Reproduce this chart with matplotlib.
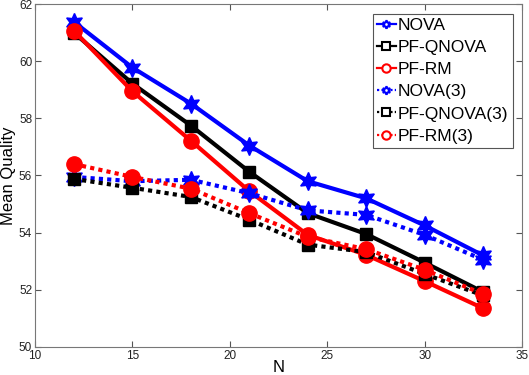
import matplotlib
matplotlib.use("Agg")
import matplotlib.pyplot as plt
from matplotlib.lines import Line2D

plt.rcParams['font.family'] = ['Liberation Sans', 'DejaVu Sans']

N = [12, 15, 18, 21, 24, 27, 30, 33]
nova = [61.38, 59.78, 58.52, 57.05, 55.8, 55.2, 54.25, 53.2]
pf_qnova = [61.0, 59.22, 57.75, 56.13, 54.68, 53.95, 52.95, 51.92]
pf_rm = [61.07, 58.95, 57.22, 55.45, 53.92, 53.22, 52.3, 51.35]
nova3 = [55.95, 55.8, 55.85, 55.38, 54.78, 54.62, 53.92, 53.05]
pf_qnova3 = [55.88, 55.57, 55.25, 54.45, 53.58, 53.32, 52.55, 51.8]
pf_rm3 = [56.4, 55.95, 55.54, 54.68, 53.85, 53.42, 52.7, 51.85]

labels = ['NOVA', 'PF-QNOVA', 'PF-RM', 'NOVA(3)', 'PF-QNOVA(3)', 'PF-RM(3)']
series = [nova, pf_qnova, pf_rm, nova3, pf_qnova3, pf_rm3]
colors = ['#0000ff', 'k', '#ff0000', '#0000ff', 'k', '#ff0000']
markers = [(6, 1, 0), 's', 'o', (6, 1, 0), 's', 'o']
msizes = [13, 9, 11, 13, 9, 11]
dotted = (0, (1, 1))
styles = ['-', '-', '-', dotted, dotted, dotted]

fig = plt.figure(figsize=(5.29, 3.75), dpi=100)
ax = fig.add_axes([0.066, 0.075, 0.921, 0.914])

handles = []
for y, lab, c, m, ms, ls in zip(series, labels, colors, markers, msizes, styles):
    ax.plot(N, y, color=c, linestyle=ls, linewidth=3, marker=m, markersize=ms,
            markerfacecolor=c, markeredgecolor=c, dash_capstyle='butt')
    handles.append(Line2D([0], [0], color=c, linestyle=ls, linewidth=1.6, marker=m,
                          markersize=6, markerfacecolor='white', markeredgecolor=c,
                          markeredgewidth=1.5, label=lab))

ax.set_xlim(10, 35)
ax.set_ylim(50, 62)
ax.set_xticks([10, 15, 20, 25, 30, 35])
ax.set_yticks([50, 52, 54, 56, 58, 60, 62])
ax.tick_params(direction='in', top=True, right=True, labelsize=8.5,
               colors='#555555', labelcolor='#222222', length=4, pad=2)
for s in ax.spines.values():
    s.set_color('#777777')
ax.set_xlabel('N', fontsize=12, labelpad=-1)
ax.set_ylabel('Mean Quality', fontsize=12, labelpad=2)

leg = ax.legend(handles=handles, loc='upper right', fontsize=12.5, handlelength=1.1,
                handletextpad=0.1, borderpad=0.25, labelspacing=0.4,
                borderaxespad=0.55, fancybox=False, framealpha=1)
leg.get_frame().set_edgecolor('#555555')
leg.get_frame().set_linewidth(0.8)

fig.savefig('out.png', dpi=100)
